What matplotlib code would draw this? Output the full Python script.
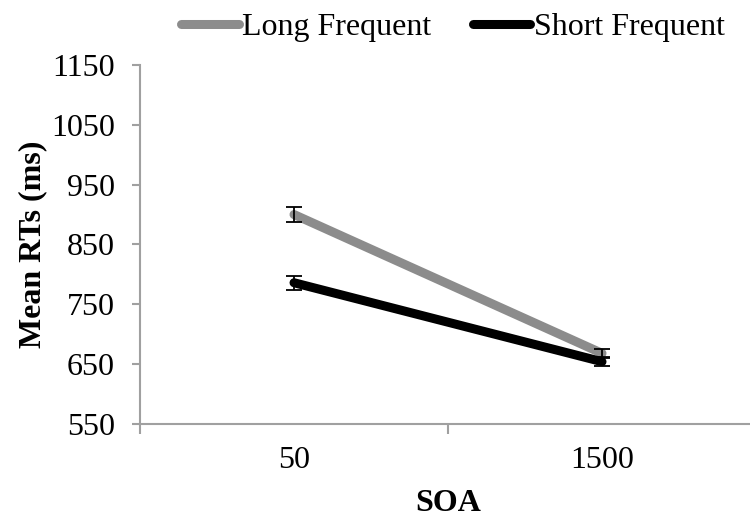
import matplotlib.pyplot as plt
import numpy as np

# dados
soa = ['50', '1500']
long_freq = [900, 668]
long_err = [12, 8]
short_freq = [786, 654]
short_err = [12, 8]

plt.rcParams['font.family'] = ['Liberation Serif', 'DejaVu Serif']
fs = 23

fig = plt.figure(figsize=(7.5, 5.24), dpi=100)
ax = fig.add_axes([0.1867, 0.191, 0.8213, 0.685])

x = np.arange(len(soa))

ax.plot(x, long_freq, color='#8C8C8C', lw=6.5, solid_capstyle='round', label='Long Frequent', zorder=2)
ax.plot(x, short_freq, color='black', lw=6.5, solid_capstyle='round', label='Short Frequent', zorder=3)
ax.errorbar(x, long_freq, yerr=long_err, fmt='none', ecolor='black', elinewidth=1.3, capsize=6, capthick=1.3, zorder=4)
ax.errorbar(x, short_freq, yerr=short_err, fmt='none', ecolor='black', elinewidth=1.3, capsize=6, capthick=1.3, zorder=4)

ax.set_ylim(550, 1150)
ax.set_yticks(range(550, 1151, 100))
ax.set_xlim(-0.5, 1.5)
ax.set_xticks(x)
ax.set_xticklabels(soa)
ax.set_xticks([-0.5, 0.5], minor=True)

for s in ['top', 'right']:
    ax.spines[s].set_visible(False)
for s in ['left', 'bottom']:
    ax.spines[s].set_color('#A0A0A0')
    ax.spines[s].set_linewidth(1.5)

ax.tick_params(axis='y', colors='#A0A0A0', labelcolor='black', labelsize=fs, length=6, width=1.5, pad=12)
ax.tick_params(axis='x', which='major', length=0, labelsize=fs, pad=16)
ax.tick_params(axis='x', which='minor', colors='#A0A0A0', length=7, width=1.5)

ax.set_ylabel('Mean RTs (ms)', fontsize=fs, fontweight='bold', labelpad=3)
ax.set_xlabel('SOA', fontsize=fs, fontweight='bold')
ax.xaxis.set_label_coords(0.5, -0.18)

fig.legend(*ax.get_legend_handles_labels(), loc='center', bbox_to_anchor=(0.604, 0.948), ncol=2,
           frameon=False, fontsize=fs, handlelength=1.8, handletextpad=0.1, columnspacing=1.3,
           borderaxespad=0, borderpad=0)

fig.savefig('out.png', dpi=100, facecolor='white')
